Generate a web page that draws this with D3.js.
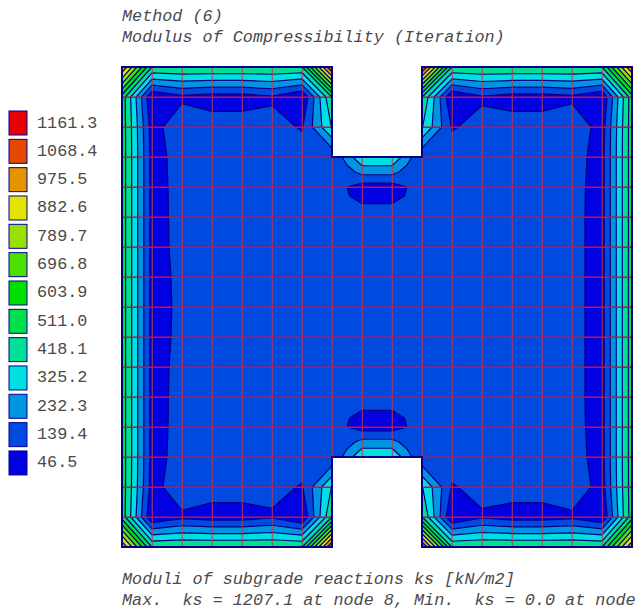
<!DOCTYPE html>
<html>
<head>
<meta charset="utf-8">
<title>Modulus of Compressibility</title>
<script src="https://cdn.jsdelivr.net/npm/d3@7"></script>
<style>
  html, body { margin: 0; padding: 0; background: #fff; overflow: hidden; }
  text { font-family: "Liberation Mono", monospace; fill: #4a4a4a; white-space: pre; }
</style>
</head>
<body>
<svg id="chart" width="637" height="609"></svg>
<script>
// legend, top to bottom
const legendLevels = [1161.3, 1068.4, 975.5, 882.6, 789.7, 696.8, 603.9, 511.0, 418.1, 325.2, 232.3, 139.4, 46.5];
const legendColors = ["#e60000", "#e34a00", "#e39500", "#e3e300", "#97e000", "#4be000", "#00e000", "#00e04b", "#00e095", "#00e0e0", "#0095e0", "#004ae0", "#0000e0"];

const titleLines = ["Method (6)", "Modulus of Compressibility (Iteration)"];
const footerLines = ["Moduli of subgrade reactions ks [kN/m2]", "Max.  ks = 1207.1 at node 8, Min.  ks = 0.0 at node"];

// where the value nodes sit, in mesh cells (extra ones around the notches)
const nodeCols = [0, 1, 2, 3, 4, 5, 6, 7, 7.5, 8, 9, 9.5, 10, 11, 12, 13, 14, 15, 16, 17];
const nodeLines = [0, 1, 2, 3, 3.5, 4, 4.3, 5, 6, 7, 8, 9, 10, 11, 11.7, 12, 12.5, 13, 14, 15, 16];

// ks at the nodes, row by row, null = no node (the notches)
const row0  = [1020, 462, 465, 465, 465, 465, 460, 1130, null, null, null, null, 1130, 460, 465, 465, 465, 465, 462, 1030];
const row1  = [520, 5, 72, 50, 50, 80, 0, 467, null, null, null, null, 467, 0, 80, 50, 50, 72, 5, 520];
const row2  = [520, 50, 167, 140, 140, 125, 85, 378, null, null, null, null, 378, 85, 125, 140, 140, 167, 50, 520];
const row3  = [520, 60, 126, 140, 140, 140, 140, 105, 226, 365, 365, 226, 105, 140, 140, 140, 140, 126, 60, 520];
const row3b = [520, 60, 124, 140, 140, 140, 140, 130, 150, 217, 217, 150, 130, 140, 140, 140, 140, 123, 60, 520];
const row4  = [520, 60, 122, 140, 140, 140, 140, 125, 93, 48, 48, 93, 125, 140, 140, 140, 140, 120, 60, 520];
const row4b = [520, 60, 121, 140, 140, 140, 140, 130, 100, 60, 60, 100, 130, 140, 140, 140, 140, 119, 60, 520];
const row5  = [520, 60, 120, 140, 140, 140, 140, 140, 140, 150, 150, 140, 140, 140, 140, 140, 140, 118, 60, 520];
const row6  = [520, 60, 118, 140, 140, 140, 140, 140, 140, 140, 140, 140, 140, 140, 140, 140, 140, 118, 60, 520];
const row7  = [520, 60, 112, 140, 140, 140, 140, 140, 140, 140, 140, 140, 140, 140, 140, 140, 140, 118, 60, 520];
const row8  = [520, 60, 110, 140, 140, 140, 140, 140, 140, 140, 140, 140, 140, 140, 140, 140, 140, 118, 60, 520];
const row9  = [520, 60, 112, 140, 140, 140, 140, 140, 140, 140, 140, 140, 140, 140, 140, 140, 140, 118, 60, 520];
const row10 = [520, 60, 118, 140, 140, 140, 140, 140, 140, 140, 140, 140, 140, 140, 140, 140, 140, 118, 60, 520];
const row11 = [520, 60, 120, 140, 140, 140, 140, 140, 140, 150, 150, 140, 140, 140, 140, 140, 140, 118, 60, 520];
const row11b = [520, 60, 121, 140, 140, 140, 140, 130, 100, 60, 60, 100, 130, 140, 140, 140, 140, 119, 60, 520];
const row12 = [520, 60, 122, 140, 140, 140, 140, 125, 93, 48, 48, 93, 125, 140, 140, 140, 140, 120, 60, 520];
const row12b = [520, 60, 124, 140, 140, 140, 140, 130, 150, 217, 217, 150, 130, 140, 140, 140, 140, 123, 60, 520];
const row13 = [520, 60, 126, 140, 140, 140, 140, 105, 226, 365, 365, 226, 105, 140, 140, 140, 140, 126, 60, 520];
const row14 = [520, 50, 167, 140, 140, 125, 85, 378, null, null, null, null, 378, 85, 125, 140, 140, 167, 50, 520];
const row15 = [520, 5, 72, 50, 50, 80, 0, 467, null, null, null, null, 467, 0, 80, 50, 50, 72, 5, 520];
const row16 = [1020, 462, 465, 465, 465, 465, 460, 1130, null, null, null, null, 1130, 460, 465, 465, 465, 465, 462, 1020];
const nodeRows = [row0, row1, row2, row3, row3b, row4, row4b, row5, row6, row7, row8, row9, row10, row11, row11b, row12, row12b, row13, row14, row15, row16];

// mesh lines and plate outline, in mesh cells
const meshCols = d3.range(0, 18);
const meshLines = d3.range(0, 17);
const plateOutline = [[0, 0], [7, 0], [7, 3], [10, 3], [10, 0], [17, 0], [17, 16], [10, 16], [10, 13], [7, 13], [7, 16], [0, 16]];

const svg = d3.select("#chart");
const xScale = d3.scaleLinear().domain([0, 17]).range([122, 632]);
const yScale = d3.scaleLinear().domain([0, 16]).range([67, 547]);

// contour index -> mesh cells, nodes are not evenly spaced
const colAt = d3.scaleLinear().domain(d3.range(nodeCols.length)).range(nodeCols);
const lineAt = d3.scaleLinear().domain(d3.range(nodeLines.length)).range(nodeLines);

const bandStep = legendLevels[0] - legendLevels[1];
const ascLevels = legendLevels.slice().reverse();
const ascColors = legendColors.slice().reverse();

const outlinePath = d3.line().x((d) => xScale(d[0])).y((d) => yScale(d[1])).curve(d3.curveLinearClosed)(plateOutline);

svg.append("clipPath").attr("id", "plate").append("path").attr("d", outlinePath);
const plate = svg.append("g").attr("clip-path", "url(#plate)");

// lowest band is just the plate itself
plate.append("path").attr("d", outlinePath).attr("fill", ascColors[0]);

// d3.contours puts node i at i + 0.5
const toPage = d3.geoTransform({
  point: function (x, y) {
    this.stream.point(xScale(colAt(x - 0.5)), yScale(lineAt(y - 0.5)));
  },
});
const contourPath = d3.geoPath(toPage);
const bandEdges = ascLevels.slice(1).map((d) => d - bandStep / 2);
const bands = d3.contours().size([nodeCols.length, nodeLines.length]).thresholds(bandEdges)(nodeRows.flat());

plate.selectAll("path.band")
  .data(bands)
  .join("path")
  .attr("class", "band")
  .attr("d", contourPath)
  .attr("fill", (d, i) => ascColors[i + 1])
  .attr("stroke", "#000080")
  .attr("stroke-width", 1.2)
  .attr("stroke-linejoin", "round");

// mesh
plate.selectAll("line.vmesh")
  .data(meshCols)
  .join("line")
  .attr("class", "vmesh")
  .attr("x1", (d) => xScale(d) + 0.25)
  .attr("x2", (d) => xScale(d) + 0.25)
  .attr("y1", yScale(0))
  .attr("y2", yScale(16))
  .attr("stroke", "#b03c5c")
  .attr("stroke-width", 1);
plate.selectAll("line.hmesh")
  .data(meshLines)
  .join("line")
  .attr("class", "hmesh")
  .attr("x1", xScale(0))
  .attr("x2", xScale(17))
  .attr("y1", (d) => yScale(d) + 0.3)
  .attr("y2", (d) => yScale(d) + 0.3)
  .attr("stroke", "#d01034")
  .attr("stroke-width", 1.5);

svg.append("path")
  .attr("d", outlinePath)
  .attr("fill", "none")
  .attr("stroke", "#000080")
  .attr("stroke-width", 2);

// legend
const legendY = d3.scaleBand().domain(legendLevels).range([110, 110 + 28.33 * legendLevels.length]);
const legend = svg.selectAll("g.key").data(legendLevels).join("g").attr("class", "key");
legend.append("rect")
  .attr("x", 9)
  .attr("y", (d) => legendY(d) + 1)
  .attr("width", 18)
  .attr("height", 24)
  .attr("fill", (d, i) => legendColors[i])
  .attr("stroke", "#000090")
  .attr("stroke-width", 1);
legend.append("text")
  .attr("x", 37)
  .attr("y", (d) => legendY(d) + 17.5)
  .attr("font-size", 16.8)
  .text((d) => d.toFixed(1));

// title and footer
svg.selectAll("text.title")
  .data(titleLines)
  .join("text")
  .attr("class", "title")
  .attr("x", 122)
  .attr("y", (d, i) => 21 + i * 21)
  .attr("font-size", 16.8)
  .attr("font-style", "italic")
  .text((d) => d);
svg.selectAll("text.footer")
  .data(footerLines)
  .join("text")
  .attr("class", "footer")
  .attr("x", 122)
  .attr("y", (d, i) => 584 + i * 21)
  .attr("font-size", 16.8)
  .attr("font-style", "italic")
  .text((d) => d);
</script>
</body>
</html>
